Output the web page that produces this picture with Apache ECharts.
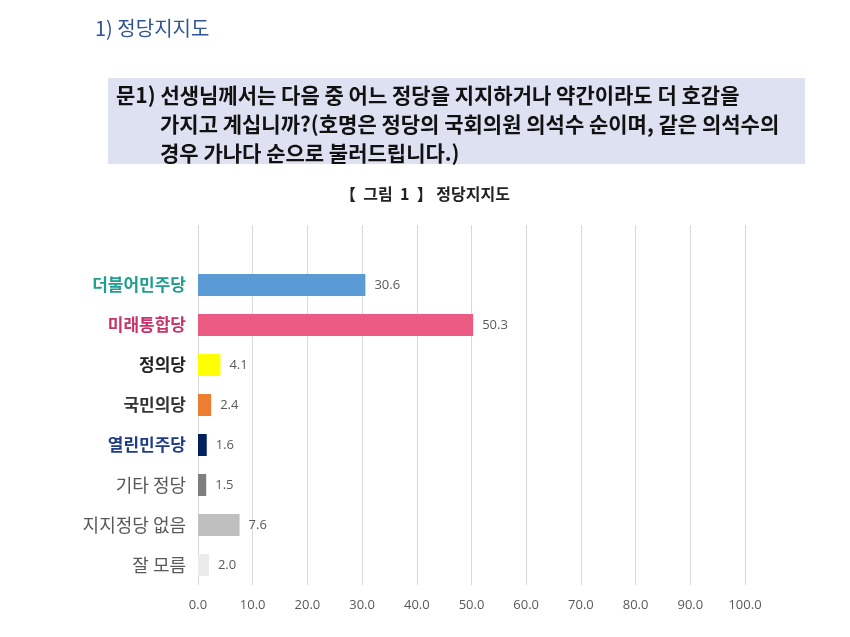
<!DOCTYPE html>
<html>
<head>
<meta charset="utf-8">
<script src="https://cdn.jsdelivr.net/npm/echarts@6/dist/echarts.min.js"></script>
<style>
    html, body { margin: 0; padding: 0; background: #fff; }
    #chart { width: 850px; height: 637px; }
</style>
</head>
<body>
<div id="chart"></div>
<script>
    // 정당지지도 데이터 (위에서 아래 순서)
    const parties = ['더불어민주당', '미래통합당', '정의당', '국민의당', '열린민주당', '기타 정당', '지지정당 없음', '잘 모름']
    const support = [30.6, 50.3, 4.1, 2.4, 1.6, 1.5, 7.6, 2.0]
    const barColors = ['#5b9bd5', '#ea5a83', '#ffff00', '#ed7d31', '#002060', '#7f7f7f', '#bfbfbf', '#ebebeb']
    const xTicks = [0, 10, 20, 30, 40, 50, 60, 70, 80, 90, 100]

    // 로고 대신 글자색으로 표시
    const labelStyles = {
        '더불어민주당': { color: '#1f9e8f', fontWeight: 'bold', fontSize: 17 },
        '미래통합당': { color: '#c8336a', fontWeight: 'bold', fontSize: 17 },
        '정의당': { color: '#222', fontWeight: 'bold', fontSize: 17 },
        '국민의당': { color: '#333', fontWeight: 'bold', fontSize: 17 },
        '열린민주당': { color: '#1f3c88', fontWeight: 'bold', fontSize: 17 }
    }

    let chart = echarts.init(document.getElementById('chart'))
    const font = '"Noto Sans CJK KR", "Noto Sans", sans-serif'

    // 아래에서 위로 그리기 위해 뒤집음 (맨 위 빈 칸 하나)
    let cats = parties.slice().reverse()
    let vals = support.map(function (v, i) {
        return { value: v, itemStyle: { color: barColors[i] } }
    }).reverse()

    let option = {
        textStyle: { fontFamily: font },
        graphic: [
            {
                type: 'text', left: 95, top: 18,
                style: { text: '1) 정당지지도', fill: '#2f5597', font: '20px ' + font }
            },
            {
                type: 'rect', shape: { x: 108, y: 78, width: 697, height: 86 },
                style: { fill: '#dee1f2' }
            },
            {
                type: 'text', left: 116, top: 85,
                style: { text: '문1) 선생님께서는 다음 중 어느 정당을 지지하거나 약간이라도 더 호감을', fill: '#111', font: 'bold 21px ' + font }
            },
            {
                type: 'text', left: 160, top: 114,
                style: { text: '가지고 계십니까?(호명은 정당의 국회의원 의석수 순이며, 같은 의석수의', fill: '#111', font: 'bold 21px ' + font }
            },
            {
                type: 'text', left: 160, top: 143,
                style: { text: '경우 가나다 순으로 불러드립니다.)', fill: '#111', font: 'bold 21px ' + font }
            },
            {
                type: 'text', left: 'center', top: 186,
                style: { text: '【  그림  1  】 정당지지도', fill: '#222', font: 'bold 16px ' + font }
            }
        ],
        grid: {
            left: 198,
            right: 105,
            top: 225,
            bottom: 52
        },
        xAxis: {
            type: 'value',
            min: 0,
            max: 100,
            interval: 10,
            axisLine: { show: false },
            axisTick: { show: false },
            splitLine: { lineStyle: { color: '#d9d9d9', width: 1 } },
            axisLabel: {
                color: '#595959',
                fontSize: 13,
                margin: 14,
                fontFamily: '"Open Sans", sans-serif',
                formatter: function (v) {
                    return xTicks.indexOf(v) >= 0 ? v.toFixed(1) : ''
                }
            }
        },
        yAxis: {
            type: 'category',
            data: cats,
            max: 8,
            axisLine: { show: false },
            axisTick: { show: false },
            axisLabel: {
                margin: 12,
                fontSize: 18,
                color: '#595959',
                formatter: function (v) {
                    return labelStyles[v] ? '{' + ['a', 'b', 'c', 'd', 'e'][parties.indexOf(v)] + '|' + v + '}' : v
                },
                rich: {
                    a: labelStyles['더불어민주당'],
                    b: labelStyles['미래통합당'],
                    c: labelStyles['정의당'],
                    d: labelStyles['국민의당'],
                    e: labelStyles['열린민주당']
                }
            }
        },
        series: [
            {
                name: '정당지지도',
                type: 'bar',
                barWidth: 22,
                data: vals,
                label: {
                    show: true,
                    position: 'right',
                    distance: 9,
                    color: '#595959',
                    fontSize: 13,
                    fontFamily: '"Open Sans", sans-serif',
                    formatter: function (p) {
                        return p.value.toFixed(1)
                    }
                }
            }
        ]
    }

    chart.setOption(option)
</script>
</body>
</html>
